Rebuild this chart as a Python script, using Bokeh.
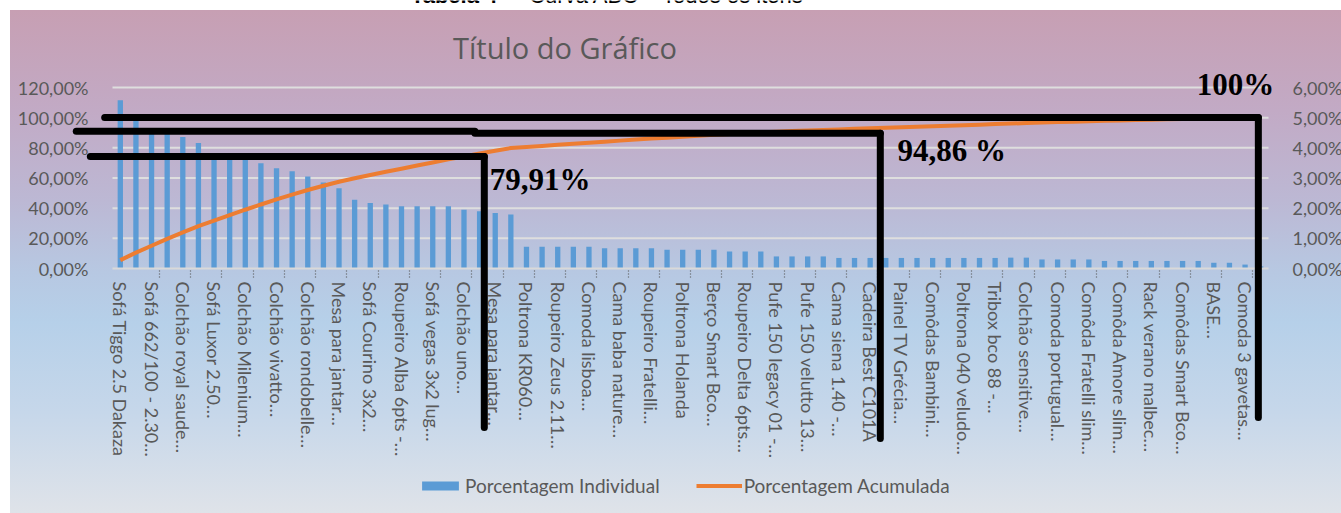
import numpy as np
from bokeh.plotting import figure
from bokeh.models import (Range1d, LinearAxis, FixedTicker, Arrow, Label,
                          Legend, LegendItem)
from bokeh.embed import file_html
from bokeh.resources import INLINE

# ---------------- data ----------------
labels_shown = [
    "Sofá Tiggo 2.5 Dakaza", "Sofá 662/100 - 2.30…", "Colchão royal saude…",
    "Sofá Luxor 2.50…", "Colchão Milenium…", "Colchão vivatto…",
    "Colchão rondobelle…", "Mesa para jantar…", "Sofá Courino 3x2…",
    "Roupeiro Alba 6pts -…", "Sofá vegas 3x2 lug…", "Colchão uno…",
    "Mesa para jantar…", "Poltrona KR060…", "Roupeiro Zeus 2.11…",
    "Comoda lisboa…", "Cama baba nature…", "Roupeiro Fratelli…",
    "Poltrona Holanda", "Berço Smart Bco…", "Roupeiro Delta 6pts…",
    "Pufe 150 legacy 01 -…", "Pufe 150 velutto 13…", "Cama siena 1.40 -…",
    "Cadeira Best C101A", "Painel TV Grécia…", "Comôdas Bambini…",
    "Poltrona 040 veludo…", "Tribox bco 88 -…", "Colchão sensitive…",
    "Comoda portugual…", "Comôda Fratelli slim…", "Comôda Amore slim…",
    "Rack verano malbec…", "Comôdas Smart Bco…", "BASE…",
    "Comoda 3 gavetas…",
]

# individual share of each item (%) (right axis)
individual_pct = [
    5.58, 4.92, 4.57, 4.52, 4.36, 4.16, 3.65, 3.60, 3.60, 3.49,
    3.32, 3.22, 3.05, 2.85, 2.66, 2.28, 2.17, 2.12, 2.06, 2.06,
    2.06, 2.06, 1.95, 1.90, 1.84, 1.79, 0.72, 0.72, 0.72, 0.72,
    0.72, 0.67, 0.67, 0.67, 0.67, 0.62, 0.62, 0.62, 0.62, 0.56,
    0.56, 0.56, 0.40, 0.40, 0.40, 0.40, 0.35, 0.35, 0.35, 0.35,
    0.35, 0.35, 0.35, 0.35, 0.35, 0.35, 0.35, 0.36, 0.36, 0.30,
    0.30, 0.30, 0.30, 0.25, 0.25, 0.25, 0.25, 0.25, 0.25, 0.25,
    0.19, 0.19, 0.13, 0.07,
]

left_ticks = [0, 20, 40, 60, 80, 100, 120]
right_ticks = [0, 1, 2, 3, 4, 5, 6]

# hand-drawn ABC cut-off markers (x in item index, y in left-axis %)
cut_a_level, cut_a_x0, cut_a_x1, cut_a_bottom = 74.2, -0.92, 24.3, -105.4
cut_b_level_l, cut_b_level_r = 91.0, 89.6
cut_b_x0, cut_b_xstep, cut_b_x1, cut_b_bottom = -1.82, 23.7, 49.65, -112.7
cut_c_level, cut_c_x0, cut_c_x1, cut_c_bottom = 100.1, 0.0, 73.85, -98.8
cut_texts = ["79,91%", "94,86 %", "100%"]
cut_text_x = [24.65, 50.75, 69.9]
cut_text_y = [47.1, 66.6, 110.1]

# ---------------- figure ----------------
n = len(individual_pct)
xs = list(range(1, n + 1))
cumulative_pct = np.cumsum(individual_pct).tolist()

GRAY = "#595959"
FONT = "Lato"
W, H = 1341, 513
# plot-area placement in the canvas (px)
PL, PR, PT, PB = 112, 1268, 87, 268
xscale = (PR - PL) / n                      # px per item
yscale = (PB - PT) / left_ticks[-1]         # px per left-axis %
x0 = 0.5 - PL / xscale
x1 = 0.5 + (W - PL) / xscale
y1 = PB / yscale
y0 = (PB - H) / yscale

p = figure(width=W, height=H, output_backend="svg", toolbar_location=None,
           x_range=Range1d(x0, x1), y_range=Range1d(y0, y1),
           min_border=0, min_border_left=0, min_border_right=0,
           min_border_top=0, min_border_bottom=0)
ratio = right_ticks[-1] / left_ticks[-1]
p.extra_y_ranges = {"ind": Range1d(y0 * ratio, y1 * ratio)}
p.background_fill_alpha = 0
p.border_fill_alpha = 0
p.outline_line_alpha = 0
p.styles = {"background": "linear-gradient(to bottom, #c79fb3 0%, #c2aac5 20%, "
                          "#bcb8d4 38%, #b7c8e2 52%, #b6d0e9 62%, #c6d7ea 80%, "
                          "#dfe3e9 100%) 10px 10px / calc(100% - 10px) "
                          "calc(100% - 10px) no-repeat, #ffffff"}

# gridlines limited to the plot area
gx0 = [0.5] * (len(left_ticks) - 1)
gx1 = [n + 0.5] * (len(left_ticks) - 1)
p.segment(x0=gx0, y0=left_ticks[1:], x1=gx1, y1=left_ticks[1:],
          line_color="#dedede", line_width=2, level="underlay")
p.xgrid.visible = False
p.ygrid.visible = False

bars = p.vbar(x=xs, top=individual_pct, width=0.34, y_range_name="ind",
              fill_color="#5b9bd5", line_alpha=0)
line = p.line(xs, cumulative_pct, line_width=4, line_color="#ed7d31")

# left axis
ly = p.yaxis[0]
ly.fixed_location = 0.5
ly.bounds = (0, left_ticks[-1])
ly.ticker = FixedTicker(ticks=left_ticks)
ly.major_label_overrides = {t: f"{t},00%" for t in left_ticks}
ly.axis_line_alpha = 0
ly.major_tick_line_alpha = 0
ly.minor_tick_line_alpha = 0
ly.major_label_text_font = FONT
ly.major_label_text_font_size = "18px"
ly.major_label_text_color = GRAY
ly.major_label_standoff = 18

# right axis
ry = LinearAxis(y_range_name="ind", ticker=FixedTicker(ticks=right_ticks))
ry.fixed_location = n + 0.5
ry.bounds = (0, right_ticks[-1])
ry.major_label_overrides = {t: f"{t},00%" for t in right_ticks}
ry.axis_line_alpha = 0
ry.major_tick_line_alpha = 0
ry.minor_tick_line_alpha = 0
ry.major_label_text_font = FONT
ry.major_label_text_font_size = "18px"
ry.major_label_text_color = GRAY
ry.major_label_standoff = 18
p.add_layout(ry, "right")

# x axis
label_pos = xs[::2]
xa = p.xaxis[0]
xa.fixed_location = 0
xa.bounds = (0.5, n + 0.5)
xa.ticker = FixedTicker(ticks=label_pos,
                        minor_ticks=[k + 0.5 for k in label_pos[1:]])
xa.major_label_overrides = {k: lab for k, lab in zip(label_pos, labels_shown)}
xa.major_label_orientation = "vertical"
xa.major_label_text_font = FONT
xa.major_label_text_font_size = "18px"
xa.major_label_text_color = GRAY
xa.major_label_standoff = 4
xa.major_tick_line_alpha = 0
xa.minor_tick_line_color = "#595959"
xa.minor_tick_line_width = 1.2
xa.minor_tick_line_dash = "1 2"
xa.minor_tick_out = 9
xa.minor_tick_in = 0
xa.axis_line_color = "#d9d9d9"
xa.axis_line_width = 2

# captions
p.add_layout(Label(x=19.6, y=173.0, text="Tabela 4", text_font="Liberation Sans",
                   text_font_style="bold", text_font_size="22px", text_color="black"))
p.add_layout(Label(x=26.0, y=173.0, text="– Curva ABC – Todos os itens",
                   text_font="Liberation Sans", text_font_size="22px",
                   text_color="black"))
p.add_layout(Label(x=22.3, y=133.9, text="Título do Gráfico",
                   text_font="Open Sans", text_font_size="29px", text_color=GRAY))

# cut-off markers
def seg(xa0, ya0, xa1, ya1):
    p.add_layout(Arrow(end=None, x_start=xa0, y_start=ya0, x_end=xa1, y_end=ya1,
                       line_width=7, line_color="black", line_cap="round"))

seg(cut_c_x0, cut_c_level, cut_c_x1, cut_c_level)
seg(cut_c_x1, cut_c_level, cut_c_x1, cut_c_bottom)
seg(cut_b_x0, cut_b_level_l, cut_b_xstep, cut_b_level_l)
seg(cut_b_xstep, cut_b_level_r, cut_b_x1, cut_b_level_r)
seg(cut_b_x1, cut_b_level_r, cut_b_x1, cut_b_bottom)
seg(cut_a_x0, cut_a_level, cut_a_x1, cut_a_level)
seg(cut_a_x1, cut_a_level, cut_a_x1, cut_a_bottom)

for t, tx, ty in zip(cut_texts, cut_text_x, cut_text_y):
    p.add_layout(Label(x=tx, y=ty, text=t, text_font="Liberation Serif",
                       text_font_style="bold", text_font_size="31px",
                       text_color="black"))

# legend
legend = Legend(items=[LegendItem(label="Porcentagem Individual", renderers=[bars]),
                       LegendItem(label="Porcentagem Acumulada", renderers=[line])],
                orientation="horizontal", location=(417, 16),
                glyph_width=46, glyph_height=11, label_standoff=2, spacing=36,
                padding=0, margin=0, background_fill_alpha=0,
                border_line_alpha=0, label_text_font=FONT,
                label_text_font_size="19px", label_text_color=GRAY)
p.add_layout(legend, "center")

open("out.html", "w").write(file_html(p, INLINE))
